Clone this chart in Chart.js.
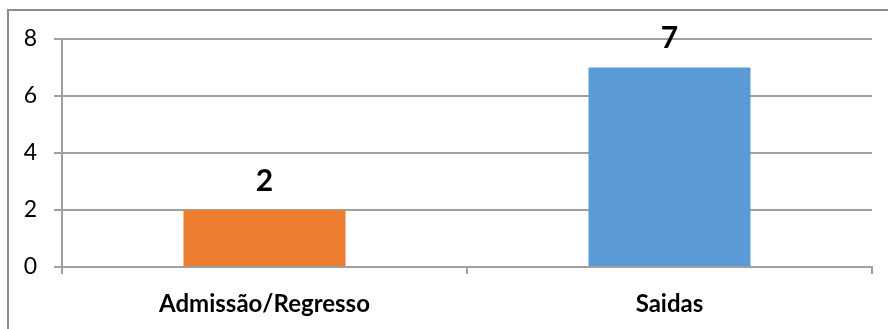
<!DOCTYPE html>
<html>
<head>
<meta charset="utf-8">
<script src="https://cdn.jsdelivr.net/npm/chart.js@4/dist/chart.umd.min.js"></script>
<style>
  html, body { margin: 0; padding: 0; background: #fff; }
  .container { width: 888px; height: 329px; position: relative; }
</style>
</head>
<body>
<div class="container">
  <canvas id="myChart" width="888" height="329"></canvas>
</div>
<script>
const categories = ['Admissão/Regresso', 'Saidas'];
const values = [2, 7];
const barColors = ['#ED7D31', '#5B9BD5'];
const yTicks = [0, 2, 4, 6, 8];

const gridColor = '#a0a0a0';

// frame: only top and left edges are visible in the picture
const framePlugin = {
  id: 'frame',
  beforeDraw(chart) {
    const ctx = chart.ctx;
    ctx.save();
    ctx.fillStyle = '#fff';
    ctx.fillRect(0, 0, chart.width, chart.height);
    ctx.strokeStyle = '#8c8c8c';
    ctx.lineWidth = 2;
    ctx.beginPath();
    ctx.moveTo(8, chart.height);
    ctx.lineTo(8, 10);
    ctx.lineTo(chart.width, 10);
    ctx.stroke();
    ctx.restore();
  }
};

// value labels above each bar
const valueLabels = {
  id: 'valueLabels',
  afterDatasetsDraw(chart) {
    const ctx = chart.ctx;
    const meta = chart.getDatasetMeta(0);
    ctx.save();
    ctx.font = 'bold 30px Lato';
    ctx.fillStyle = '#000';
    ctx.textAlign = 'center';
    ctx.textBaseline = 'middle';
    meta.data.forEach((bar, i) => {
      ctx.fillText(String(values[i]), bar.x, bar.y - 29);
    });
    ctx.restore();
  }
};

const ctx = document.getElementById('myChart');
const myChart = new Chart(ctx, {
  type: 'bar',
  data: {
    labels: categories,
    datasets: [{
      data: values,
      backgroundColor: barColors,
      borderWidth: 0,
      categoryPercentage: 1,
      barPercentage: 0.4
    }]
  },
  options: {
    responsive: false,
    animation: false,
    devicePixelRatio: 1,
    layout: { padding: { left: 0, top: 39, right: 16, bottom: 0 } },
    plugins: {
      legend: { display: false },
      tooltip: { enabled: false }
    },
    scales: {
      x: {
        grid: {
          offset: true,
          drawOnChartArea: false,
          drawTicks: true,
          tickLength: 7,
          color: gridColor,
          lineWidth: 2
        },
        border: { color: gridColor, width: 2 },
        ticks: {
          color: '#000',
          font: { family: 'Lato', size: 24, weight: 'bold' },
          padding: 16,
          maxRotation: 0
        },
        afterFit(scale) { scale.height = 62; }
      },
      y: {
        min: 0,
        max: 8,
        afterBuildTicks(scale) { scale.ticks = yTicks.map(v => ({ value: v })); },
        grid: {
          color: gridColor,
          lineWidth: 2,
          tickLength: 8
        },
        border: { color: gridColor, width: 2 },
        ticks: {
          color: '#000',
          font: { family: 'Lato', size: 23 },
          padding: 17
        },
        afterFit(scale) { scale.width = 62; }
      }
    }
  },
  plugins: [framePlugin, valueLabels]
});
</script>
</body>
</html>
